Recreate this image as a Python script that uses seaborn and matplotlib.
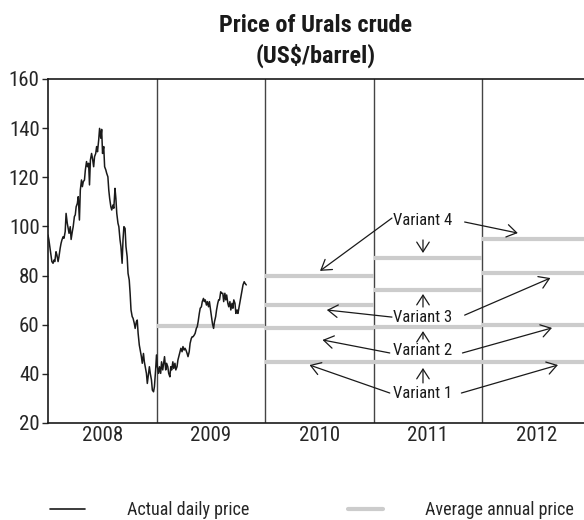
import numpy as np
import pandas as pd
import matplotlib
matplotlib.use("Agg")
import matplotlib.pyplot as plt
import seaborn as sns
from matplotlib.lines import Line2D

# ---------------- data ----------------
daily_price = [
    96.5, 94.5, 91.8, 88.4, 85.7, 85.0, 86.3, 85.7, 89.7, 88.4,
    85.7, 87.7, 91.1, 93.1, 94.5, 95.8, 95.2, 97.9, 105.3, 101.3,
    99.2, 97.2, 99.9, 94.7, 97.9, 99.9, 104.0, 104.7, 108.0, 109.4,
    112.1, 102.6, 114.8, 118.9, 116.2, 118.2, 118.9, 123.0, 126.4, 124.3,
    125.7, 116.9, 127.0, 129.7, 127.7, 124.3, 128.4, 129.7, 132.5, 130.4,
    135.2, 139.9, 135.9, 139.5, 129.7, 132.5, 124.3, 123.0, 121.6, 120.2,
    114.8, 111.4, 108.0, 106.7, 108.7, 107.4, 115.5, 111.4, 105.3, 101.3,
    99.9, 94.5, 91.8, 85.0, 94.5, 99.9, 99.2, 91.8, 87.7, 80.9,
    78.2, 72.8, 66.0, 63.3, 62.6, 60.6, 58.5, 61.2, 61.9, 56.5,
    51.7, 49.7, 47.0, 44.3, 48.3, 44.9, 42.9, 40.2, 36.1, 40.2,
    42.9, 40.2, 37.5, 33.4, 32.7, 34.8, 41.6, 47.7, 42.9, 40.2,
    42.9, 40.2, 44.9, 41.6, 44.3, 47.0, 41.6, 44.3, 42.9, 40.2,
    38.8, 42.9, 41.6, 44.9, 42.2, 44.3, 41.6, 42.9, 45.6, 47.0,
    49.0, 50.4, 49.0, 51.1, 49.7, 50.4, 49.7, 48.3, 47.0, 49.0,
    52.4, 54.4, 55.1, 55.1, 55.8, 56.5, 58.5, 59.2, 61.2, 64.6,
    66.7, 67.3, 69.4, 70.7, 69.4, 70.1, 68.0, 69.4, 67.3, 69.4,
    66.0, 63.3, 60.6, 58.5, 61.2, 63.3, 66.0, 68.7, 70.1, 70.1,
    73.4, 72.8, 72.8, 69.4, 72.8, 70.1, 72.1, 68.7, 67.3, 69.4,
    66.0, 68.7, 66.7, 70.1, 68.7, 64.6, 66.0, 64.6, 67.3, 69.4,
    71.4, 74.1, 76.2, 77.5, 76.8, 76.2,
]
price_start, price_end = "2008-01-01", "2009-10-30"

actual_avg_year = 2009
actual_avg_2009 = 59.5

forecast_years = [2010, 2011, 2012]
variant_1 = [45.0, 45.0, 45.0]
variant_2 = [58.5, 59.2, 59.9]
variant_3 = [68.0, 74.0, 81.0]
variant_4 = [80.0, 87.0, 95.0]

year_labels = ["2008", "2009", "2010", "2011", "2012"]
y_ticks = [20, 40, 60, 80, 100, 120, 140, 160]

title_lines = ["Price of Urals crude", "(US$/barrel)"]
legend_labels = ["Actual daily price", "Average annual price"]

# ---------------- style ----------------
sns.set_style("white")
plt.rcParams["font.family"] = ["Roboto Condensed", "DejaVu Sans"]

BLACK = "#1a1a1a"
GREY = "#cccccc"

fig = plt.figure(figsize=(5.84, 5.20), dpi=100)
ax = fig.add_axes([48 / 584, 1 - 423 / 520, 1 - 48 / 584, (423 - 79) / 520])

dates = pd.date_range(price_start, price_end, periods=len(daily_price))
frac_year = dates.year + (dates.dayofyear - 1) / np.where(dates.is_leap_year, 366, 365)
df = pd.DataFrame({"t": frac_year, "price": daily_price})
sns.lineplot(data=df, x="t", y="price", color=BLACK, lw=1.1, ax=ax, legend=False)

# average annual price bars
ax.hlines(actual_avg_2009, actual_avg_year, actual_avg_year + 1, color=GREY, lw=3, zorder=1)
for series in (variant_1, variant_2, variant_3, variant_4):
    for yr, v in zip(forecast_years, series):
        ax.hlines(v, yr, yr + 1, color=GREY, lw=3, zorder=1)

# year separators
for yr in range(2009, 2013):
    ax.axvline(yr, color="#444444", lw=1.0, zorder=0.5)

ax.set_xlim(2008, 2012.94)
ax.set_ylim(20, 160)
ax.set_yticks(y_ticks)
ax.set_yticklabels([str(v) for v in y_ticks], fontsize=15)
ax.set_xticks([2008.5 + i for i in range(len(year_labels))])
ax.set_xticklabels(year_labels, fontsize=15)
ax.tick_params(axis="x", length=0, pad=2)
ax.tick_params(axis="y", length=4, width=1, direction="out", pad=2, left=True)
ax.set_xlabel("")
ax.set_ylabel("")
for s in ("left", "bottom", "top"):
    ax.spines[s].set_color(BLACK)
    ax.spines[s].set_linewidth(1.2)
ax.spines["right"].set_visible(False)

# annotations
tx = 2011.456
label_y = {"Variant 4": 102.6, "Variant 3": 63.1, "Variant 2": 49.7, "Variant 1": 32.2}
for lab, yv in label_y.items():
    ax.text(tx, yv, lab, ha="center", va="center", fontsize=12, color=BLACK, zorder=5)

arrow_kw = dict(arrowstyle="->,head_length=0.7,head_width=0.45", color=BLACK, lw=0.9,
                shrinkA=0, shrinkB=0, mutation_scale=10)
arrows = [
    ((2011.17, 103.4), (2010.507, 81.9)),
    ((2011.84, 101.8), (2012.33, 97.3)),
    ((tx, 94.5), (tx, 89.2)),
    ((2011.17, 63.1), (2010.57, 66.0)),
    ((2011.84, 63.9), (2012.63, 79.0)),
    ((tx, 67.2), (tx, 72.5)),
    ((2011.15, 48.5), (2010.53, 53.8)),
    ((2011.82, 48.5), (2012.645, 58.7)),
    ((tx, 54.2), (tx, 57.4)),
    ((2011.15, 32.2), (2010.41, 43.6)),
    ((2011.81, 32.2), (2012.70, 43.6)),
    ((tx, 36.3), (tx, 42.4)),
]
for tail, tip in arrows:
    ax.annotate("", xy=tip, xytext=tail, xycoords="data", textcoords="data",
                arrowprops=arrow_kw, zorder=6)

# title (two lines, centred over the plot area)
title_x = 316 / 584
fig.text(title_x, 1 - 32 / 520, title_lines[0], ha="center", va="baseline",
         fontsize=17.5, fontweight="bold", color=BLACK)
fig.text(title_x, 1 - 63 / 520, title_lines[1], ha="center", va="baseline",
         fontsize=17.5, fontweight="bold", color=BLACK)

# legend (two entries placed like the reference)
legend_kw = dict(loc="center left", frameon=False, fontsize=13, handlelength=1.95,
                 handletextpad=2.3, borderpad=0, borderaxespad=0)
fig.legend([Line2D([0], [0], color=BLACK, lw=1.2)], [legend_labels[0]],
           bbox_to_anchor=(50 / 584, 1 - 510 / 520), **legend_kw)
fig.legend([Line2D([0], [0], color=GREY, lw=3)], [legend_labels[1]],
           bbox_to_anchor=(348 / 584, 1 - 510 / 520), **legend_kw)

fig.savefig("out.png", dpi=100)
